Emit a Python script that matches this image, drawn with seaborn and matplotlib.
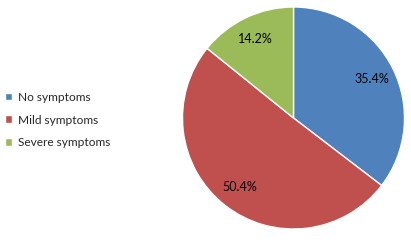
import matplotlib
matplotlib.use("Agg")
import matplotlib.pyplot as plt
import seaborn as sns

categories = ["No symptoms", "Mild symptoms", "Severe symptoms"]
values = [35.4, 50.4, 14.2]
colors = ["#4F81BD", "#C0504D", "#9BBB59"]

sns.set_theme(style="white")
plt.rcParams['font.family'] = ['Lato', 'DejaVu Sans']

fig = plt.figure(figsize=(4.11, 2.42), dpi=100)
ax = fig.add_axes([182.5/411, 13/242, 222/411, 222/242])
wedges, texts, autotexts = ax.pie(
    values, colors=colors, startangle=90, counterclock=False,
    autopct="%.1f%%", pctdistance=0.79,
    wedgeprops=dict(edgecolor="white", linewidth=1),
    textprops=dict(fontsize=9, color="black"),
)
ax.set_aspect("equal")
ax.set_xlim(-1, 1)
ax.set_ylim(-1, 1)

fig.legend(wedges, categories, loc="center left", bbox_to_anchor=(-0.006, 122/242),
           frameon=False, fontsize=8.6, handlelength=0.6, handleheight=0.6,
           handletextpad=0.5, labelspacing=1.0, borderaxespad=0.2)

fig.savefig("out.png", dpi=100)
